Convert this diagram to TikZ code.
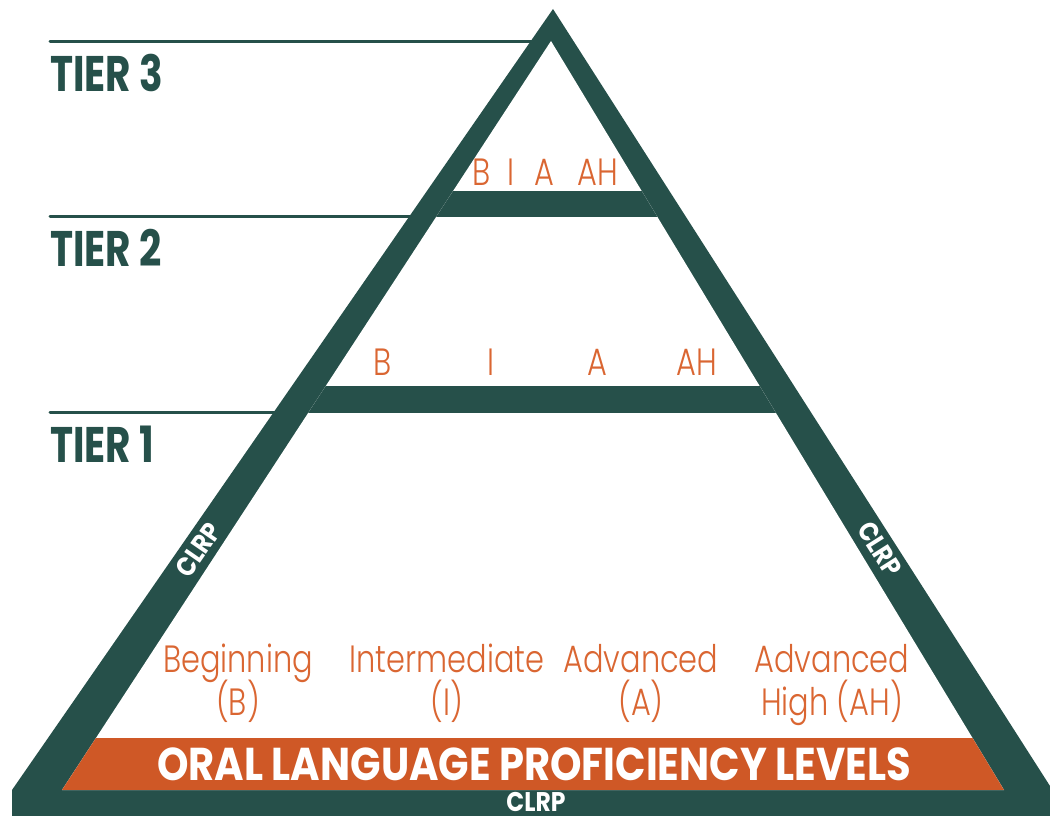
\documentclass[tikz,border=0pt]{standalone}
\usepackage{fontspec}
\setmainfont{Poppins}
\newfontfamily\tierfont[FakeStretch=0.78]{Poppins}
\newfontfamily\bandfont[FakeStretch=0.87]{Poppins}
\newfontfamily\levelfont[FakeStretch=0.8,UprightFont={* Light}]{Poppins}
\definecolor{pinegreen}{HTML}{26504A}
\definecolor{rustorange}{HTML}{CF5826}
\definecolor{levelorange}{HTML}{DA6632}
\tikzset{
	tier/.style={anchor=base west, inner sep=0pt, text=pinegreen, font=\tierfont\bfseries\fontsize{50}{50}\selectfont},
	level/.style={anchor=base, inner sep=0pt, text=levelorange, font=\levelfont\fontsize{38}{38}\selectfont},
	clrp/.style={inner sep=0pt, text=white, font=\bandfont\bfseries\fontsize{27}{27}\selectfont},
	tierline/.style={pinegreen, line width=3pt, line cap=round}
}

\begin{document}
\begin{tikzpicture}[x=1pt,y=-1pt]
	\useasboundingbox (0,0) rectangle (1050,816);
	% lines out to the tiers
	\coordinate (t3start) at (50,42);
	\coordinate (t3end) at (540,42);
	\coordinate (t2start) at (50,216);
	\coordinate (t2end) at (420,216);
	\coordinate (t1start) at (50,412);
	\coordinate (t1end) at (290,412);
	\draw[tierline] (t3start) -- (t3end);
	\draw[tierline] (t2start) -- (t2end);
	\draw[tierline] (t1start) -- (t1end);
	\node[tier] (tier3) at (50,92) {TIER 3};
	\node[tier] (tier2) at (50,266) {TIER 2};
	\node[tier] (tier1) at (50,462) {TIER 1};
	% pyramid
	\fill[pinegreen] (553,9) -- (1050,786) -- (1050,816) -- (12,816) -- (12,790) -- cycle;
	\fill[white] (551,41) -- (1004,790) -- (62,790) -- cycle;
	\begin{scope}
		\clip (551,41) -- (1004,790) -- (62,790) -- cycle;
		\fill[pinegreen] (0,191) rectangle (1050,217);
		\fill[pinegreen] (0,386) rectangle (1050,413);
		\fill[rustorange] (0,738) rectangle (1050,790);
	\end{scope}
	% levels
	\foreach \lbl/\xx [count=\i] in {B/482, I/511, A/544, AH/598}
		\node[level] (top\i) at (\xx,185) {\lbl};
	\foreach \lbl/\xx [count=\i] in {B/383, I/491, A/597, AH/697}
		\node[level] (mid\i) at (\xx,375) {\lbl};
	\node[level] (beg) at (238,672) {Beginning};
	\node[level] (begabbr) at (238,715) {(B)};
	\node[level] (inter) at (447,672) {Intermediate};
	\node[level] (interabbr) at (447,715) {(I)};
	\node[level] (adv) at (641,672) {Advanced};
	\node[level] (advabbr) at (641,715) {(A)};
	\node[level] (advhigh) at (832,672) {Advanced};
	\node[level] (advhighabbr) at (832,715) {High (AH)};
	\node[clrp, anchor=base, font=\bandfont\bfseries\fontsize{46}{46}\selectfont] (olpl) at (534,780) {ORAL LANGUAGE PROFICIENCY LEVELS};
	% CLRP on the three sides
	\node[clrp, anchor=base] (clrpbase) at (536,811) {CLRP};
	\node[clrp, rotate=55.3] (clrpleft) at (198,550) {CLRP};
	\node[clrp, rotate=-57.6] (clrpright) at (880,549) {CLRP};
\end{tikzpicture}
\end{document}
